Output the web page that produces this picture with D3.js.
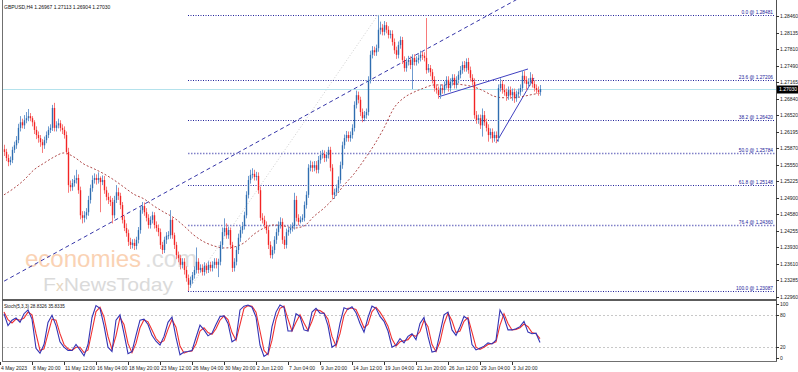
<!DOCTYPE html>
<html>
<head>
<meta charset="utf-8">
<script src="https://cdn.jsdelivr.net/npm/d3@7"></script>
<style>
  body { margin: 0; background: #fff; }
  svg { display: block; font-family: "Liberation Sans", Arial, sans-serif; }
</style>
</head>
<body>
<div id="chart"></div>
<script>
// GBPUSD H4
const FIRST_OPEN = 1.2585;
const closes = [
  1.2580,1.2568,1.2560,1.2564,1.2584,1.2593,1.2603,1.2627,1.2638,1.2632,
  1.2642,1.2646,1.2650,1.2646,1.2638,1.2623,1.2613,1.2607,1.2599,1.2593,
  1.2603,1.2613,1.2623,1.2627,1.2666,1.2627,1.2632,1.2636,1.2627,1.2623,
  1.2613,1.2580,1.2515,1.2511,1.2519,1.2525,1.2529,1.2505,1.2456,1.2451,
  1.2456,1.2462,1.2486,1.2509,1.2525,1.2529,1.2525,1.2529,1.2521,1.2525,
  1.2505,1.2492,1.2486,1.2482,1.2456,1.2486,1.2501,1.2494,1.2476,1.2447,
  1.2431,1.2421,1.2404,1.2398,1.2402,1.2396,1.2408,1.2427,1.2466,1.2474,
  1.2462,1.2451,1.2437,1.2447,1.2456,1.2437,1.2431,1.2423,1.2398,1.2388,
  1.2408,1.2416,1.2417,1.2447,1.2417,1.2398,1.2378,1.2372,1.2359,1.2365,
  1.2349,1.2333,1.2320,1.2329,1.2339,1.2349,1.2365,1.2349,1.2353,1.2345,
  1.2357,1.2349,1.2359,1.2353,1.2359,1.2365,1.2359,1.2365,1.2398,1.2423,
  1.2431,1.2417,1.2427,1.2398,1.2353,1.2365,1.2388,1.2412,1.2427,1.2435,
  1.2456,1.2496,1.2525,1.2535,1.2537,1.2531,1.2533,1.2505,1.2451,1.2447,
  1.2437,1.2427,1.2398,1.2378,1.2388,1.2408,1.2423,1.2437,1.2443,1.2408,
  1.2398,1.2423,1.2427,1.2431,1.2435,1.2486,1.2451,1.2443,1.2447,1.2451,
  1.2476,1.2496,1.2549,1.2554,1.2549,1.2554,1.2545,1.2564,1.2574,1.2576,
  1.2568,1.2574,1.2584,1.2549,1.2496,1.2501,1.2509,1.2525,1.2554,1.2593,
  1.2607,1.2613,1.2607,1.2613,1.2627,1.2672,1.2691,1.2682,1.2658,1.2646,
  1.2652,1.2658,1.2721,1.2770,1.2779,1.2775,1.2783,1.2819,1.2823,1.2815,
  1.2828,1.2819,1.2809,1.2811,1.2795,1.2779,1.2770,1.2789,1.2799,1.2760,
  1.2744,1.2756,1.2760,1.2750,1.2764,1.2756,1.2760,1.2764,1.2770,1.2768,
  1.2764,1.2740,1.2744,1.2736,1.2721,1.2705,1.2701,1.2691,1.2705,1.2701,
  1.2711,1.2721,1.2705,1.2717,1.2725,1.2711,1.2721,1.2731,1.2740,1.2750,
  1.2744,1.2756,1.2740,1.2725,1.2717,1.2652,1.2642,1.2646,1.2632,1.2652,
  1.2638,1.2627,1.2613,1.2619,1.2607,1.2613,1.2607,1.2705,1.2713,1.2701,
  1.2697,1.2689,1.2701,1.2691,1.2697,1.2685,1.2693,1.2697,1.2705,1.2729,
  1.2721,1.2713,1.2717,1.2725,1.2713,1.2705,1.2701,1.2697,1.2703
];
const highs = [
  1.2594,1.2586,1.2575,1.2571,1.2590,1.2600,1.2611,1.2635,1.2650,1.2645,
  1.2652,1.2658,1.2664,1.2656,1.2650,1.2642,1.2630,1.2620,1.2613,1.2605,
  1.2610,1.2620,1.2630,1.2634,1.2672,1.2676,1.2640,1.2645,1.2642,1.2634,
  1.2630,1.2620,1.2588,1.2524,1.2527,1.2534,1.2545,1.2536,1.2512,1.2464,
  1.2464,1.2470,1.2494,1.2516,1.2534,1.2538,1.2536,1.2540,1.2532,1.2534,
  1.2533,1.2512,1.2500,1.2494,1.2490,1.2494,1.2515,1.2510,1.2500,1.2482,
  1.2455,1.2440,1.2428,1.2412,1.2409,1.2410,1.2414,1.2433,1.2472,1.2482,
  1.2481,1.2470,1.2458,1.2454,1.2463,1.2462,1.2444,1.2438,1.2430,1.2404,
  1.2414,1.2423,1.2425,1.2466,1.2452,1.2422,1.2404,1.2385,1.2378,1.2372,
  1.2372,1.2356,1.2340,1.2336,1.2345,1.2356,1.2393,1.2372,1.2360,1.2360,
  1.2364,1.2362,1.2366,1.2365,1.2366,1.2372,1.2372,1.2371,1.2405,1.2432,
  1.2450,1.2440,1.2434,1.2432,1.2404,1.2372,1.2395,1.2420,1.2434,1.2443,
  1.2463,1.2503,1.2533,1.2545,1.2548,1.2545,1.2541,1.2540,1.2512,1.2460,
  1.2455,1.2444,1.2433,1.2405,1.2395,1.2415,1.2430,1.2444,1.2452,1.2450,
  1.2415,1.2430,1.2434,1.2438,1.2442,1.2500,1.2494,1.2458,1.2454,1.2458,
  1.2483,1.2503,1.2556,1.2563,1.2561,1.2562,1.2562,1.2572,1.2582,1.2584,
  1.2583,1.2580,1.2590,1.2590,1.2556,1.2508,1.2516,1.2532,1.2561,1.2600,
  1.2614,1.2621,1.2620,1.2620,1.2634,1.2679,1.2700,1.2698,1.2688,1.2665,
  1.2660,1.2665,1.2728,1.2778,1.2787,1.2786,1.2790,1.2848,1.2835,1.2830,
  1.2836,1.2834,1.2826,1.2818,1.2818,1.2802,1.2786,1.2796,1.2806,1.2805,
  1.2767,1.2763,1.2768,1.2767,1.2771,1.2771,1.2767,1.2771,1.2778,1.2776,
  1.2775,1.2842,1.2752,1.2750,1.2742,1.2728,1.2712,1.2708,1.2712,1.2712,
  1.2718,1.2728,1.2728,1.2724,1.2732,1.2732,1.2728,1.2738,1.2748,1.2757,
  1.2758,1.2763,1.2764,1.2747,1.2732,1.2724,1.2660,1.2653,1.2653,1.2665,
  1.2660,1.2645,1.2634,1.2626,1.2626,1.2620,1.2620,1.2712,1.2724,1.2720,
  1.2712,1.2704,1.2708,1.2708,1.2704,1.2704,1.2700,1.2704,1.2712,1.2740,
  1.2738,1.2728,1.2724,1.2736,1.2732,1.2720,1.2712,1.2708,1.2711
];
const lows = [
  1.2572,1.2562,1.2552,1.2554,1.2558,1.2578,1.2586,1.2597,1.2620,1.2626,
  1.2625,1.2636,1.2640,1.2640,1.2630,1.2615,1.2605,1.2598,1.2590,1.2578,
  1.2586,1.2597,1.2607,1.2617,1.2621,1.2620,1.2620,1.2626,1.2620,1.2615,
  1.2606,1.2575,1.2500,1.2503,1.2504,1.2512,1.2518,1.2498,1.2448,1.2440,
  1.2442,1.2448,1.2455,1.2479,1.2502,1.2518,1.2516,1.2518,1.2462,1.2515,
  1.2498,1.2485,1.2478,1.2474,1.2440,1.2450,1.2480,1.2486,1.2468,1.2440,
  1.2425,1.2414,1.2396,1.2390,1.2391,1.2388,1.2389,1.2401,1.2420,1.2459,
  1.2455,1.2444,1.2430,1.2430,1.2440,1.2430,1.2424,1.2415,1.2390,1.2380,
  1.2382,1.2400,1.2409,1.2410,1.2410,1.2390,1.2370,1.2364,1.2350,1.2352,
  1.2340,1.2326,1.2308,1.2314,1.2322,1.2332,1.2342,1.2342,1.2344,1.2338,
  1.2338,1.2342,1.2343,1.2346,1.2346,1.2352,1.2352,1.2335,1.2358,1.2390,
  1.2415,1.2410,1.2410,1.2390,1.2345,1.2346,1.2358,1.2380,1.2404,1.2420,
  1.2428,1.2450,1.2489,1.2518,1.2528,1.2524,1.2524,1.2498,1.2445,1.2440,
  1.2430,1.2420,1.2390,1.2372,1.2371,1.2381,1.2400,1.2416,1.2430,1.2400,
  1.2390,1.2391,1.2416,1.2420,1.2424,1.2428,1.2444,1.2436,1.2440,1.2443,
  1.2444,1.2469,1.2490,1.2542,1.2541,1.2542,1.2538,1.2538,1.2557,1.2567,
  1.2560,1.2561,1.2567,1.2542,1.2488,1.2488,1.2494,1.2502,1.2518,1.2547,
  1.2586,1.2600,1.2600,1.2600,1.2606,1.2620,1.2665,1.2675,1.2650,1.2638,
  1.2640,1.2645,1.2651,1.2714,1.2763,1.2768,1.2768,1.2776,1.2810,1.2808,
  1.2808,1.2812,1.2802,1.2802,1.2788,1.2772,1.2762,1.2763,1.2782,1.2752,
  1.2737,1.2737,1.2749,1.2742,1.2703,1.2749,1.2749,1.2753,1.2757,1.2760,
  1.2757,1.2733,1.2735,1.2728,1.2714,1.2698,1.2694,1.2684,1.2684,1.2694,
  1.2694,1.2704,1.2698,1.2698,1.2710,1.2704,1.2704,1.2714,1.2724,1.2733,
  1.2737,1.2737,1.2733,1.2718,1.2710,1.2645,1.2635,1.2635,1.2625,1.2610,
  1.2631,1.2620,1.2600,1.2606,1.2598,1.2600,1.2597,1.2600,1.2698,1.2694,
  1.2690,1.2680,1.2682,1.2684,1.2680,1.2676,1.2678,1.2686,1.2690,1.2698,
  1.2714,1.2700,1.2706,1.2710,1.2706,1.2698,1.2694,1.2690,1.2690
];

// media movil (una muestra cada 5 velas, ultima en la vela 268)
const maBars = d3.range(0, 270, 5).concat([268]);
const maValues = [
  1.2496,1.2509,1.2525,1.2545,1.2558,1.2570,1.2578,1.2570,1.2556,1.2547,
  1.2537,1.2525,1.2511,1.2497,1.2488,1.2474,1.2462,1.2451,1.2435,1.2417,
  1.2404,1.2396,1.2392,1.2394,1.2402,1.2419,1.2431,1.2437,1.2435,1.2431,
  1.2435,1.2454,1.2470,1.2490,1.2515,1.2537,1.2564,1.2593,1.2627,1.2666,
  1.2686,1.2697,1.2705,1.2711,1.2711,1.2713,1.2711,1.2707,1.2699,1.2689,
  1.2686,1.2686,1.2689,1.2693,1.2695
];

// Stoch(5,3,3), una muestra cada 2 velas
const stochK = [
  82,60,70,74,66,82,89,72,18,9, 25,66,79,60,30,20,14,14,25,15,
  4,25,75,97,92,60,20,12,70,80, 45,8,12,42,70,72,62,42,31,24,
  40,66,76,38,6,11,12,14,38,61, 52,41,46,62,77,78,64,30,35,89,
  96,98,94,76,24,3,8,58,85,98, 94,50,50,82,77,52,50,85,92,83,
  83,60,20,25,64,93,90,95,84,64, 48,75,96,92,77,68,50,20,24,36,
  28,40,45,34,64,75,40,11,13,46, 80,85,52,42,58,77,72,25,15,18,
  22,28,26,33,89,75,52,52,54,58, 68,48,45,46,28.8
];
const stochD = [
  85,71,65,72,70,74,85,80,45,14, 17,45,72,70,45,25,17,14,20,20,
  10,15,50,86,94,76,40,16,41,75, 62,27,10,27,56,71,67,52,36,28,
  32,53,71,57,22,9,12,13,26,50, 56,47,44,54,70,78,71,47,33,62,
  92,97,96,85,50,14,6,33,71,92, 96,72,50,66,80,65,51,68,89,88,
  83,72,40,22,45,79,92,92,90,74, 56,62,86,94,85,73,59,35,22,30,
  32,34,43,40,49,70,58,25,12,30, 63,83,69,47,50,68,75,48,20,16,
  20,25,27,30,61,82,64,52,53,56, 63,58,47,45,35.8
];
const stochLevels = [80, 20];
const stochTicks = [100, 80, 20, 0];

// Fibonacci
const fibLabels = ['0.0', '23.6', '38.2', '50.0', '61.8', '76.4', '100.0'];
const fibPrices = [1.28481, 1.27206, 1.26420, 1.25784, 1.25148, 1.24360, 1.23087];
const fibFromBar = 92, fibToBar = 187;

const priceTicks = [1.28460,1.28135,1.27810,1.27490,1.27165,1.26840,1.26520,1.26195,1.25870,
  1.25550,1.25225,1.24900,1.24580,1.24255,1.23930,1.23610,1.23285,1.22960];
const bidPrice = 1.27030;

const timeBars = [0,16,32,48,64,80,96,112,128,144,160,176,192,208,224,240,256];
const timeLabels = ['4 May 2023','8 May 20:00','11 May 12:00','16 May 04:00','18 May 20:00',
  '23 May 12:00','26 May 04:00','30 May 20:00','2 Jun 12:00','7 Jun 04:00','9 Jun 20:00',
  '14 Jun 12:00','19 Jun 04:00','21 Jun 20:00','26 Jun 12:00','29 Jun 04:00','3 Jul 20:00'];

// lineas dibujadas (vela, precio)
const trendBars = [0, 133], trendPrices = [1.2327, 1.2613];
const wedgeTop = { bars: [217, 262], prices: [1.26875, 1.27423] };
const wedgeLow = { bars: [246, 265], prices: [1.25975, 1.27247] };

const COLOR_UP = '#2f6db0', COLOR_DOWN = '#f22424', COLOR_FIB = '#22229a',
  COLOR_FIB_2 = '#8080c8', COLOR_TREND = '#3535a8', COLOR_MA = '#b04a4a';

const W = 798, H = 372;
const svg = d3.select('#chart').append('svg').attr('width', W).attr('height', H);

const x = d3.scaleLinear().domain([0, 268]).range([4, 540]);
const y = d3.scaleLinear().domain([1.22941, 1.28714]).range([298, 3]);
const ys = d3.scaleLinear().domain([0, 100]).range([358, 304]);

svg.append('defs').append('clipPath').attr('id', 'mainClip')
  .append('rect').attr('x', 3).attr('y', 0).attr('width', 773).attr('height', 298);
svg.append('defs').append('clipPath').attr('id', 'stoClip')
  .append('rect').attr('x', 3).attr('y', 301).attr('width', 773).attr('height', 60);

const main = svg.append('g').attr('clip-path', 'url(#mainClip)');

// marca de agua
const wm = main.append('g');
wm.append('text').attr('x', 25).attr('y', 267).attr('font-size', 24)
  .attr('fill', '#fad2b4').text('economies');
wm.append('text').attr('x', 145).attr('y', 267).attr('font-size', 24)
  .attr('fill', '#dedede').text('.com');
const fx = wm.append('text').attr('x', 43).attr('y', 291).attr('font-size', 19)
  .attr('textLength', 130).attr('lengthAdjust', 'spacingAndGlyphs');
fx.append('tspan').attr('fill', '#dadada').text('F');
fx.append('tspan').attr('fill', '#e6d6c0').attr('font-size', 14).text('x');
fx.append('tspan').attr('fill', '#dadada').text('NewsToday');

// fibonacci
main.append('line')
  .attr('x1', x(fibFromBar)).attr('y1', y(fibPrices[6]))
  .attr('x2', x(fibToBar)).attr('y2', y(fibPrices[0]))
  .attr('stroke', '#cfcfcf').attr('stroke-width', 1).attr('stroke-dasharray', '1,2');

fibPrices.forEach(function(p, i) {
  const soft = (fibLabels[i] == '50.0' || fibLabels[i] == '76.4');
  main.append('line')
    .attr('x1', x(fibFromBar)).attr('x2', 775)
    .attr('y1', Math.round(y(p)) + 0.5).attr('y2', Math.round(y(p)) + 0.5)
    .attr('stroke', soft ? COLOR_FIB_2 : COLOR_FIB)
    .attr('stroke-width', soft ? 1.4 : 1)
    .attr('stroke-dasharray', soft ? '1.5,1.5' : '1,1.5');
  main.append('text')
    .attr('x', 773).attr('y', Math.round(y(p)) - 1.5)
    .attr('text-anchor', 'end').attr('font-size', 4.8).attr('fill', COLOR_FIB)
    .text(fibLabels[i] + ' @ ' + p.toFixed(5));
});

// linea bid
main.append('line').attr('x1', 3).attr('x2', 776)
  .attr('y1', Math.round(y(bidPrice)) + 0.5).attr('y2', Math.round(y(bidPrice)) + 0.5)
  .attr('stroke', '#b4e2ec').attr('stroke-width', 1);

// tendencia (prolongada)
const slope = (trendPrices[1] - trendPrices[0]) / (trendBars[1] - trendBars[0]);
main.append('line')
  .attr('x1', x(-3)).attr('y1', y(trendPrices[0] - 3 * slope))
  .attr('x2', x(270)).attr('y2', y(trendPrices[0] + 270 * slope))
  .attr('stroke', COLOR_TREND).attr('stroke-width', 1).attr('stroke-dasharray', '4,3');

[wedgeTop, wedgeLow].forEach(function(w) {
  main.append('line')
    .attr('x1', x(w.bars[0])).attr('y1', y(w.prices[0]))
    .attr('x2', x(w.bars[1])).attr('y2', y(w.prices[1]))
    .attr('stroke', '#4040c0').attr('stroke-width', 1);
});

// media movil
main.append('path')
  .datum(maBars.map(function(b, i) { return [b, maValues[i]]; }))
  .attr('fill', 'none').attr('stroke', COLOR_MA).attr('stroke-width', 1)
  .attr('stroke-dasharray', '2,2')
  .attr('d', d3.line().x(function(d) { return x(d[0]); }).y(function(d) { return y(d[1]); })
    .curve(d3.curveMonotoneX));

// velas
const candles = closes.map(function(c, i) {
  return { i: i, o: i == 0 ? FIRST_OPEN : closes[i - 1], h: highs[i], l: lows[i], c: c };
});
const cg = main.append('g');
cg.selectAll('.wick').data(candles).enter().append('line')
  .attr('x1', function(d) { return x(d.i) + 0.5; }).attr('x2', function(d) { return x(d.i) + 0.5; })
  .attr('y1', function(d) { return y(d.h); }).attr('y2', function(d) { return y(d.l); })
  .attr('stroke', function(d) { return d.c >= d.o ? '#6f9bcf' : '#f77a7a'; })
  .attr('stroke-width', 1);
cg.selectAll('.body').data(candles).enter().append('rect')
  .attr('x', function(d) { return x(d.i) - 0.2; })
  .attr('width', 1.4)
  .attr('y', function(d) { return y(Math.max(d.o, d.c)); })
  .attr('height', function(d) { return Math.max(1, Math.abs(y(d.o) - y(d.c))); })
  .attr('fill', function(d) { return d.c >= d.o ? COLOR_UP : COLOR_DOWN; });

// panel estocastico
const sto = svg.append('g').attr('clip-path', 'url(#stoClip)');
stochLevels.forEach(function(v) {
  sto.append('line').attr('x1', 3).attr('x2', 776)
    .attr('y1', Math.round(ys(v)) + 0.5).attr('y2', Math.round(ys(v)) + 0.5)
    .attr('stroke', '#c8c8c8').attr('stroke-dasharray', '2,2');
});
const stoLine = d3.line().x(function(d, i) { return x(i * 2); }).y(function(d) { return ys(d); });
sto.append('path').datum(stochD).attr('fill', 'none').attr('stroke', '#f03030')
  .attr('stroke-width', 1.1).attr('d', stoLine);
sto.append('path').datum(stochK).attr('fill', 'none').attr('stroke', '#3434b4')
  .attr('stroke-width', 1.1).attr('d', stoLine);

// marcos
svg.append('line').attr('x1', 2.5).attr('x2', 2.5).attr('y1', 0).attr('y2', 362)
  .attr('stroke', '#707070');
svg.append('line').attr('x1', 776.5).attr('x2', 776.5).attr('y1', 0).attr('y2', 362)
  .attr('stroke', '#505050');
svg.append('rect').attr('x', 2).attr('y', 299).attr('width', 775).attr('height', 2)
  .attr('fill', '#5c5c5c');
svg.append('line').attr('x1', 2).attr('x2', 777).attr('y1', 361.5).attr('y2', 361.5)
  .attr('stroke', '#707070');

// eje de precios
const axR = svg.append('g').attr('font-size', 5).attr('fill', '#222');
priceTicks.forEach(function(p) {
  const yy = Math.round(y(p)) + 0.5;
  axR.append('line').attr('x1', 776).attr('x2', 779).attr('y1', yy).attr('y2', yy).attr('stroke', '#333');
  axR.append('text').attr('x', 780).attr('y', yy + 1.8).text(p.toFixed(5));
});
const by = Math.round(y(bidPrice)) + 0.5;
axR.append('rect').attr('x', 777).attr('y', by - 4).attr('width', 21).attr('height', 8).attr('fill', '#000');
axR.append('text').attr('x', 779).attr('y', by + 1.8).attr('fill', '#fff').text(bidPrice.toFixed(5));

stochTicks.forEach(function(v) {
  const yy = Math.round(ys(v)) + 0.5;
  axR.append('line').attr('x1', 776).attr('x2', 779).attr('y1', yy).attr('y2', yy).attr('stroke', '#333');
  axR.append('text').attr('x', 780).attr('y', yy + 1.8).text(v);
});

// eje de tiempo
const axB = svg.append('g').attr('font-size', 5).attr('fill', '#222');
timeBars.forEach(function(b, i) {
  const xx = Math.round(x(b)) - 3.5;
  axB.append('line').attr('x1', xx).attr('x2', xx).attr('y1', 362).attr('y2', 365).attr('stroke', '#333');
  axB.append('text').attr('x', xx + 0.5).attr('y', 369.5).text(timeLabels[i]);
});

// textos
svg.append('text').attr('x', 4).attr('y', 9).attr('font-size', 5).attr('fill', '#111')
  .text('GBPUSD,H4  1.26967 1.27113 1.26904 1.27030');
svg.append('text').attr('x', 4).attr('y', 308).attr('font-size', 4.6).attr('fill', '#111')
  .text('Stoch(5,3,3) 28.8326 35.8335');
</script>
</body>
</html>
